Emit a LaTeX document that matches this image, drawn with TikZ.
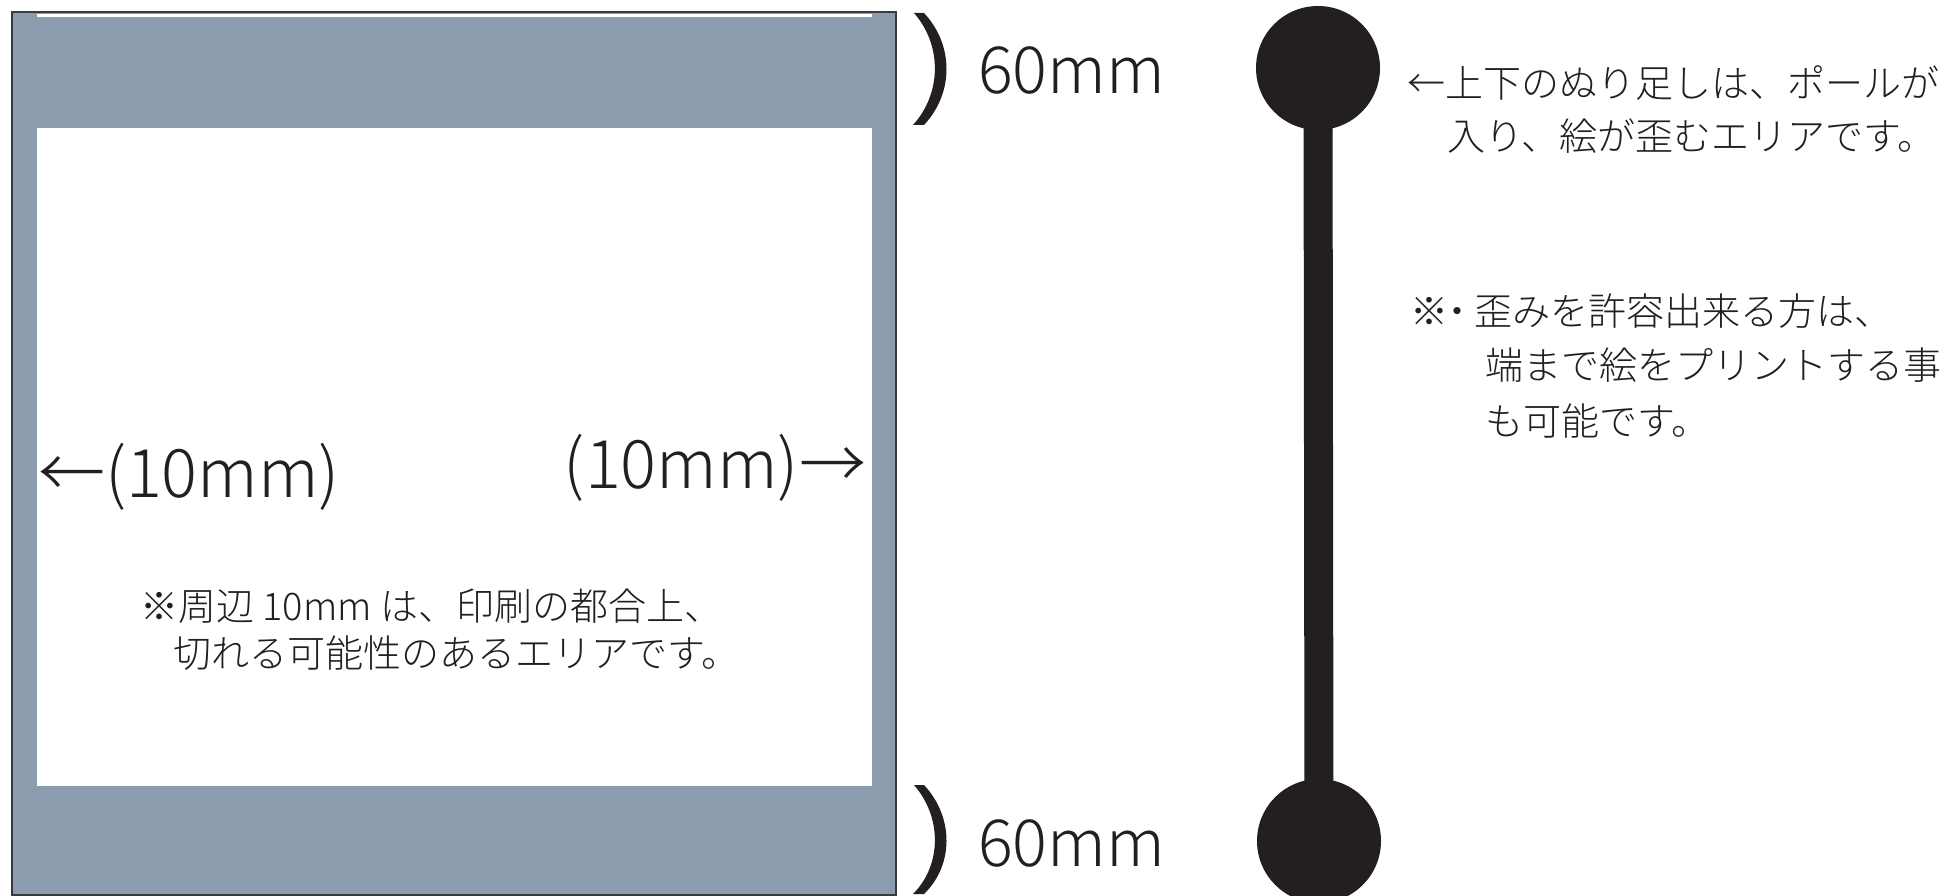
\documentclass[tikz,border=0pt]{standalone}
\usepackage{fontspec}
\IfFontExistsTF{Noto Sans CJK JP Light}{\setmainfont{Noto Sans CJK JP Light}}{\setmainfont{Noto Sans CJK JP}}
\definecolor{bandc}{HTML}{8D9BAE}
\definecolor{inkc}{HTML}{231F20}
\definecolor{framec}{HTML}{3A3A3C}
\begin{document}
\begin{tikzpicture}[x=1pt,y=-1pt,
  jp/.style={inner sep=0pt, outer sep=0pt, text=inkc, font=\fontsize{38}{46}\selectfont},
  big/.style={inner sep=0pt, outer sep=0pt, text=inkc, font=\fontsize{65}{72}\selectfont},
  mid/.style={inner sep=0pt, outer sep=0pt, text=inkc, font=\fontsize{67}{74}\selectfont},
  ball/.style={circle, fill=inkc, draw=none, inner sep=0pt, minimum size=124pt},
  pole/.style={draw=inkc, line width=29pt},
  paren/.style={fill=inkc}]
\useasboundingbox (0,0) rectangle (1960,896);
\clip (0,0) rectangle (1960,896);
\fill[white] (0,0) rectangle (1960,896);
% sheet with bleed bands
\draw[fill=bandc, draw=framec, line width=2.5pt] (12,12) rectangle (896,895);
\fill[white] (37,128) rectangle (872,786);
\fill[white] (37,14) rectangle (872,17);
% parentheses
\fill[paren] (924,13) .. controls (954,45) and (954,93) .. (924,125) -- (913,125) .. controls (942,93) and (942,45) .. (914,13) -- cycle;
\begin{scope}[shift={(0,772)}]
\fill[paren] (924,13) .. controls (954,45) and (954,93) .. (924,122) -- (913,122) .. controls (942,93) and (942,45) .. (914,13) -- cycle;
\end{scope}
% labels 60mm
\node[big, anchor=base west] (t60) at (978,94) {60mm};
\node[big, anchor=base west] (b60) at (978,866) {60mm};
% pole
\node[ball] (topball) at (1318,68) {};
\node[ball] (botball) at (1319,841) {};
\draw[pole] (topball.center) -- (botball.center);
% 10mm labels
\node[mid, anchor=base west] (l10) at (38,497) {←(10mm)};
\node[mid, anchor=base east] (r10) at (866,488) {(10mm)→};
% notes
\node[jp, anchor=base west] (n1a) at (1407,98) {←上下のぬり足しは、ポールが};
\node[jp, anchor=base west] (n1b) at (1447,151) {入り、絵が歪むエリアです。};
\node[jp, anchor=base west] (n2a) at (1410,325) {※\kern-0.25em・\kern-0.05em歪みを許容出来る方は、};
\node[jp, anchor=base west] (n2b) at (1485,379) {端まで絵をプリントする事};
\node[jp, anchor=base west] (n2c) at (1485,435) {も可能です。};
\node[jp, anchor=base west] (n3a) at (140,620) {※周辺 10mm は、印刷の都合上、};
\node[jp, anchor=base west] (n3b) at (173,667) {切れる可能性のあるエリアです。};
\end{tikzpicture}
\end{document}
